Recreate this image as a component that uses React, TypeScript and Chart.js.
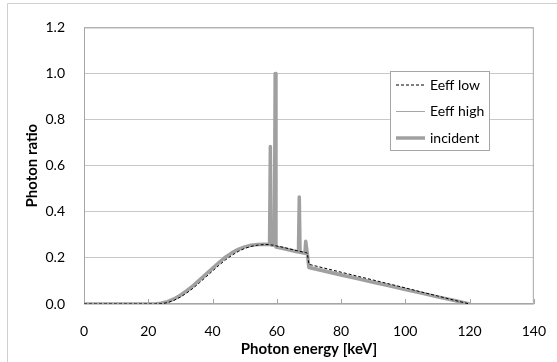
import { useEffect, useRef } from "react";
import { Chart, registerables } from "chart.js";

Chart.register(...registerables);

// Photon energy sample points (keV)
const energies = [
  0, 10, 20, 22, 24, 26, 28, 30, 32, 34, 36, 38, 40, 42, 44, 46, 48, 50, 52, 54, 56,
  57.75, 58, 58.25, 59.25, 59.5, 59.75, 62, 64, 66, 66.75, 67, 67.25, 68, 68.75, 69, 69.5, 70,
  75, 80, 85, 90, 95, 100, 105, 110, 115, 120,
];

// Effective-energy spectrum, low estimate
const eeffLow = [
  0, 0, 0, 0, 0.001, 0.006, 0.016, 0.03, 0.048, 0.069, 0.093, 0.118, 0.143, 0.168, 0.191, 0.211, 0.228, 0.241, 0.25, 0.255, 0.258,
  0.258, 0.257, 0.256, 0.255, 0.254, 0.252, 0.246, 0.239, 0.232, 0.23, 0.229, 0.228, 0.226, 0.224, 0.223, 0.221, 0.172,
  0.155, 0.138, 0.121, 0.104, 0.087, 0.07, 0.052, 0.035, 0.017, 0,
];

// Effective-energy spectrum, high estimate
const eeffHigh = [
  0, 0, 0, 0, 0.002, 0.008, 0.019, 0.034, 0.053, 0.074, 0.099, 0.124, 0.149, 0.174, 0.197, 0.217, 0.233, 0.245, 0.253, 0.257, 0.259,
  0.258, 0.257, 0.256, 0.255, 0.254, 0.25, 0.244, 0.237, 0.23, 0.228, 0.227, 0.226, 0.224, 0.222, 0.221, 0.219, 0.165,
  0.149, 0.132, 0.116, 0.099, 0.083, 0.066, 0.05, 0.033, 0.017, 0,
];

// Incident spectrum with characteristic lines
const incident = [
  0, 0, 0, 0, 0.003, 0.01, 0.022, 0.038, 0.058, 0.08, 0.105, 0.13, 0.155, 0.18, 0.203, 0.222, 0.237, 0.248, 0.255, 0.258, 0.259,
  0.258, 0.683, 0.256, 0.255, 1.0, 0.247, 0.241, 0.234, 0.228, 0.226, 0.464, 0.224, 0.222, 0.22, 0.272, 0.218, 0.158,
  0.142, 0.126, 0.11, 0.094, 0.079, 0.063, 0.047, 0.031, 0.016, 0,
];

const xTicks = [0, 20, 40, 60, 80, 100, 120, 140];
const yTicks = [0, 0.2, 0.4, 0.6, 0.8, 1.0, 1.2];

const FONT = "Lato, 'Liberation Sans', sans-serif";

const seriesStyles = [
  { label: "Eeff low", data: eeffLow, color: "#000000", width: 1, dash: [3, 2] },
  { label: "Eeff high", data: eeffHigh, color: "#a6a6a6", width: 1, dash: [] as number[] },
  { label: "incident", data: incident, color: "#a0a0a0", width: 3.5, dash: [] as number[] },
];

const framePlugin = {
  id: "frame",
  beforeDraw(chart: any) {
    const { ctx, width, height } = chart;
    ctx.save();
    ctx.fillStyle = "#ffffff";
    ctx.fillRect(0, 0, width, height);
    ctx.strokeStyle = "#d0d0d0";
    ctx.lineWidth = 1;
    ctx.beginPath();
    ctx.moveTo(7.5, height);
    ctx.lineTo(7.5, 3.5);
    ctx.lineTo(width, 3.5);
    ctx.stroke();
    ctx.restore();
  },
  beforeDatasetsDraw(chart: any) {
    const { ctx, chartArea } = chart;
    const { left, right, top, bottom } = chartArea;
    const xs = chart.scales.x;
    ctx.save();
    ctx.strokeStyle = "#a6a6a6";
    ctx.lineWidth = 1;
    ctx.strokeRect(left + 0.5, top + 0.5, right - left - 1, bottom - top - 1);
    ctx.beginPath();
    xTicks.forEach((v) => {
      const px = Math.round(xs.getPixelForValue(v)) + 0.5;
      ctx.moveTo(px, bottom);
      ctx.lineTo(px, bottom - 5);
    });
    ctx.stroke();
    ctx.restore();
  },
  afterDraw(chart: any) {
    const { ctx } = chart;
    const bx = 390.5, by = 71.5, bw = 99, bh = 79;
    ctx.save();
    ctx.fillStyle = "#ffffff";
    ctx.fillRect(bx, by, bw, bh);
    ctx.strokeStyle = "#a6a6a6";
    ctx.lineWidth = 1;
    ctx.strokeRect(bx, by, bw, bh);
    const rows = [85, 111.5, 138];
    seriesStyles.forEach((s, i) => {
      const y = rows[i];
      ctx.beginPath();
      ctx.strokeStyle = s.color;
      ctx.lineWidth = s.width;
      ctx.setLineDash(s.dash);
      ctx.moveTo(396, y);
      ctx.lineTo(425, y);
      ctx.stroke();
      ctx.setLineDash([]);
      ctx.fillStyle = "#000000";
      ctx.font = `14px ${FONT}`;
      ctx.textBaseline = "middle";
      ctx.textAlign = "left";
      ctx.fillText(s.label, 430, y);
    });
    ctx.restore();
  },
};

export default function App() {
  const canvasRef = useRef<HTMLCanvasElement | null>(null);

  useEffect(() => {
    const canvas = canvasRef.current;
    if (!canvas) return;
    const chart = new Chart(canvas, {
      type: "line",
      data: {
        datasets: seriesStyles.map((s) => ({
          label: s.label,
          data: energies.map((e, i) => ({ x: e, y: s.data[i] })),
          borderColor: s.color,
          borderWidth: s.width,
          borderDash: s.dash,
          borderJoinStyle: "round" as const,
          pointRadius: 0,
          tension: 0,
          fill: false,
        })),
      },
      options: {
        animation: false,
        responsive: false,
        devicePixelRatio: 1,
        layout: { padding: { left: 8, right: 17, top: 16, bottom: 0 } },
        plugins: {
          legend: { display: false },
          tooltip: { enabled: false },
        },
        scales: {
          x: {
            type: "linear",
            min: 0,
            max: 140,
            afterFit: (s: any) => {
              s.height = 58;
            },
            afterBuildTicks: (s: any) => {
              s.ticks = xTicks.map((v) => ({ value: v }));
            },
            grid: { display: false },
            border: { display: false },
            ticks: {
              padding: 11,
              color: "#000",
              font: { family: FONT, size: 14 },
              maxRotation: 0,
              callback: (v: any) => String(v),
            },
            title: {
              display: true,
              text: "Photon energy [keV]",
              color: "#000",
              font: { family: FONT, size: 15, weight: "bold" },
              padding: { top: 0, bottom: 4 },
            },
          },
          y: {
            type: "linear",
            min: 0,
            max: 1.2,
            afterFit: (s: any) => {
              s.width = 76;
            },
            afterBuildTicks: (s: any) => {
              s.ticks = yTicks.map((v) => ({ value: v }));
            },
            grid: { color: "#c8c8c8", drawTicks: false },
            border: { display: false },
            ticks: {
              padding: 19,
              color: "#000",
              font: { family: FONT, size: 14 },
              callback: (v: any) => Number(v).toFixed(1),
            },
            title: {
              display: true,
              text: "Photon ratio",
              color: "#000",
              font: { family: FONT, size: 15, weight: "bold" },
              padding: { top: 15, bottom: 0 },
            },
          },
        },
      },
      plugins: [framePlugin],
    });
    return () => chart.destroy();
  }, []);

  return (
    <canvas
      ref={canvasRef}
      width={557}
      height={362}
      style={{ position: "absolute", left: 0, top: 0, display: "block" }}
    />
  );
}
